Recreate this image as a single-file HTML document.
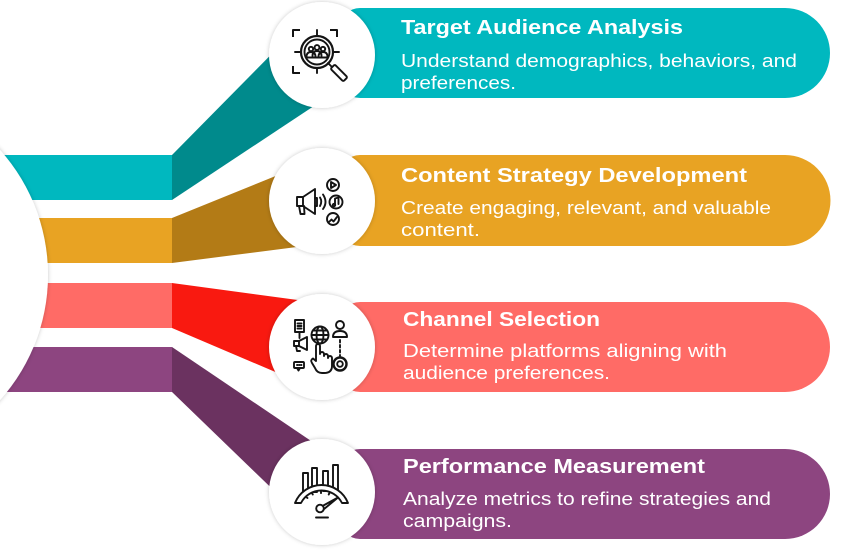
<!DOCTYPE html>
<html>
<head>
<meta charset="utf-8">
<style>
  html,body{margin:0;padding:0;background:#fff;}
  svg{display:block;}
  .t{font-family:"Liberation Sans",Arial,sans-serif;font-weight:bold;font-size:20px;fill:#fff;}
  .b{font-family:"Liberation Sans",Arial,sans-serif;font-weight:normal;font-size:18px;fill:#fff;}
  .ic{fill:none;stroke:#141414;stroke-width:1.9;stroke-linejoin:round;stroke-linecap:round;}
</style>
</head>
<body>
<svg width="850" height="550" viewBox="0 0 850 550" xmlns="http://www.w3.org/2000/svg">
  <defs>
    <filter id="sh" x="-30%" y="-30%" width="160%" height="160%">
      <feDropShadow dx="0" dy="0" stdDeviation="2.2" flood-color="#000" flood-opacity="0.22"/>
    </filter>
  </defs>
  <rect width="850" height="550" fill="#fff"/>

  <!-- left bands -->
  <rect x="0" y="155" width="172" height="45" fill="#00B8BF"/>
  <rect x="0" y="218" width="172" height="45" fill="#E8A323"/>
  <rect x="0" y="283" width="172" height="45" fill="#FF6B66"/>
  <rect x="0" y="347" width="172" height="45" fill="#8D4580"/>

  <!-- connectors -->
  <polygon points="172,155 320,5 320,102 172,200" fill="#008A8C"/>
  <polygon points="172,218 320,158 320,244 172,263" fill="#B37B16"/>
  <polygon points="172,283 320,303 320,391 172,328" fill="#F91910"/>
  <polygon points="172,347 320,447 320,535 172,392" fill="#6B3260"/>

  <!-- big left circle -->
  <circle cx="-139" cy="275" r="187" fill="#fff" filter="url(#sh)"/>

  <!-- pills -->
  <path d="M360,8 H785 A45,45 0 0 1 785,98 H360 A20,20 0 0 1 340,78 V28 A20,20 0 0 1 360,8 Z" fill="#00B8BF"/>
  <path d="M360,155 H785 A45.5,45.5 0 0 1 785,246 H360 A20,20 0 0 1 340,226 V175 A20,20 0 0 1 360,155 Z" fill="#E8A323"/>
  <path d="M360,302 H785 A45,45 0 0 1 785,392 H360 A20,20 0 0 1 340,372 V322 A20,20 0 0 1 360,302 Z" fill="#FF6B66"/>
  <path d="M360,449 H785 A45,45 0 0 1 785,539 H360 A20,20 0 0 1 340,519 V469 A20,20 0 0 1 360,449 Z" fill="#8D4580"/>

  <!-- icon circles -->
  <circle cx="322" cy="55" r="53" fill="#fff" filter="url(#sh)"/>
  <circle cx="322" cy="201" r="53" fill="#fff" filter="url(#sh)"/>
  <circle cx="322" cy="347" r="53" fill="#fff" filter="url(#sh)"/>
  <circle cx="322" cy="492" r="53" fill="#fff" filter="url(#sh)"/>

  <!-- Icon 1: target audience magnifier -->
  <g class="ic">
    <path d="M293,36V30H299 M331,30H337V36 M293,67V73H299" stroke-width="2" stroke-linecap="square"/>
    <path d="M317,30V36 M317,68V73 M295,52H301 M333,52H339"/>
    <circle cx="317" cy="52" r="16" stroke-width="2.2"/>
    <circle cx="317" cy="52" r="12.5"/>
    <circle cx="311" cy="49" r="2.2"/>
    <circle cx="317" cy="47.5" r="2.4"/>
    <circle cx="323" cy="49" r="2.2"/>
    <path d="M306.5,57 q0,-5 4.5,-5 q4.5,0 4.5,5 M312.5,56 q0,-5 4.5,-5 q4.5,0 4.5,5 M318.5,57 q0,-5 4.5,-5 q4.5,0 4.5,5 M306,57.5 H328"/>
    <path d="M328,63 L331.5,66.5"/>
    <g transform="rotate(45 339 73)"><rect x="330" y="70" width="18" height="6" rx="1.5"/></g>
  </g>

  <!-- Icon 2: megaphone and media -->
  <g class="ic">
    <rect x="297" y="197" width="6" height="9"/>
    <path d="M303,197 L315,189 V214 L303,206"/>
    <path d="M299,206 L300.5,214 H304.5 L304,206"/>
    <path d="M315,198 h2 v8 h-2"/>
    <path d="M320,197.5 q2.5,4 0,8.5 M323,194.5 q5,7.5 0,14.5"/>
    <circle cx="333" cy="185" r="6"/>
    <path d="M331,182 L336,185 L331,188 Z"/>
    <circle cx="336" cy="202" r="6.5"/>
    <path d="M335,205 V198.5 L338.5,197.5 V204"/>
    <circle cx="334" cy="205" r="1.2"/>
    <circle cx="333" cy="219" r="6"/>
    <path d="M329,222 l2.5,-2.5 2,2 3.5,-4.5"/>
  </g>

  <!-- Icon 3: channel selection -->
  <g class="ic">
    <rect x="295" y="320" width="9" height="12"/>
    <path d="M297.5,323.5 h4 M297.5,326 h4 M297.5,328.5 h4 M299.5,332 V338"/>
    <rect x="294" y="341" width="5" height="5"/>
    <path d="M299,341 L307,337 V350 L299,346 M296,346 L297,351 H300"/>
    <rect x="294" y="362" width="10" height="6" rx="1"/>
    <path d="M297,368 l1.5,2.5 1.5,-2.5 M297,365 h0.5 M299,365 h0.5 M301,365 h0.5"/>
    <circle cx="320" cy="335" r="8.5"/>
    <ellipse cx="320" cy="335" rx="3.5" ry="8.5"/>
    <path d="M311.5,335 H328.5 M313,330.5 H327 M313,339.5 H327"/>
    <path d="M312,363 q-2,-3 1,-4.5 l3,2.5 V346 a2,2 0 0 1 4,0 V354 a2,2 0 0 1 4,0 V356 a2,2 0 0 1 4,0 V358 a2,2 0 0 1 4,0 V366 q0,7 -8,7 h-2 q-5,0 -7,-5 Z" fill="#fff"/>
    <circle cx="340" cy="325" r="4"/>
    <path d="M333,337 q0,-6 7,-6 q7,0 7,6 Z"/>
    <path d="M340,340 V356" stroke-dasharray="2.5,2.5"/>
    <circle cx="340" cy="364" r="6.5" stroke-width="2.4"/>
    <circle cx="340" cy="364" r="2.8"/>
  </g>

  <!-- Icon 4: performance gauge -->
  <g class="ic">
    <rect x="303" y="473" width="5" height="20"/>
    <rect x="312" y="468" width="5" height="24"/>
    <rect x="323" y="471" width="5" height="20"/>
    <rect x="333" y="465" width="5" height="28"/>
    <path d="M295,503 A28.5,28.5 0 0 1 348,503 L342,503 A23,23 0 0 0 301,503 Z" fill="#fff"/>
    <path d="M306,497 l1.5,1 M312,493 l0.8,1.5 M321,491.5 v1.6 M329.5,493 l-0.8,1.5"/>
    <path d="M322.5,506 L338,497.5 M323.5,509.5 L338,497.5"/>
    <circle cx="320" cy="508.5" r="3.8" fill="#fff"/>
    <path d="M316,517.5 H328"/>
  </g>

  <!-- Texts -->
  <text class="t" x="401" y="34" textLength="282" lengthAdjust="spacingAndGlyphs">Target Audience Analysis</text>
  <text class="b" x="401" y="67" textLength="396" lengthAdjust="spacingAndGlyphs">Understand demographics, behaviors, and</text>
  <text class="b" x="401" y="89" textLength="115" lengthAdjust="spacingAndGlyphs">preferences.</text>

  <text class="t" x="401" y="182" textLength="346" lengthAdjust="spacingAndGlyphs">Content Strategy Development</text>
  <text class="b" x="401" y="214" textLength="370" lengthAdjust="spacingAndGlyphs">Create engaging, relevant, and valuable</text>
  <text class="b" x="401" y="236" textLength="79" lengthAdjust="spacingAndGlyphs">content.</text>

  <text class="t" x="403" y="326" textLength="197" lengthAdjust="spacingAndGlyphs">Channel Selection</text>
  <text class="b" x="403" y="357" textLength="324" lengthAdjust="spacingAndGlyphs">Determine platforms aligning with</text>
  <text class="b" x="403" y="379" textLength="207" lengthAdjust="spacingAndGlyphs">audience preferences.</text>

  <text class="t" x="403" y="473" textLength="302" lengthAdjust="spacingAndGlyphs">Performance Measurement</text>
  <text class="b" x="403" y="505" textLength="368" lengthAdjust="spacingAndGlyphs">Analyze metrics to refine strategies and</text>
  <text class="b" x="403" y="527" textLength="109" lengthAdjust="spacingAndGlyphs">campaigns.</text>
</svg>
</body>
</html>
